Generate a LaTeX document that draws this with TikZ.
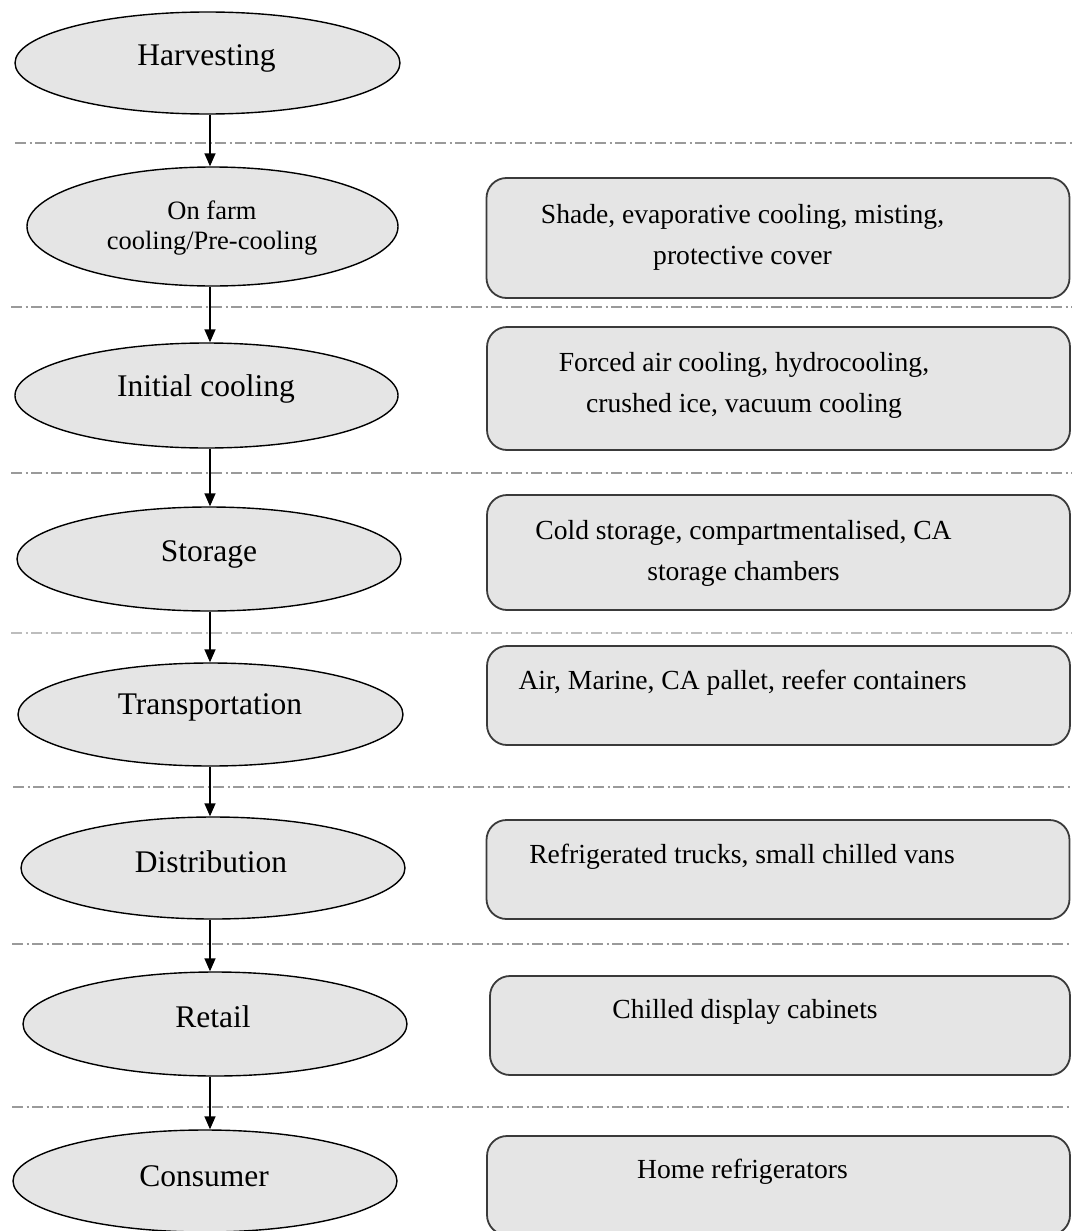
\documentclass[tikz,border=0pt]{standalone}
\usepackage{fontspec}
\setmainfont{Liberation Serif}
\usetikzlibrary{shapes.geometric,arrows.meta}
\definecolor{fillgray}{HTML}{E5E5E5}
\definecolor{sepgray}{HTML}{9A9A9A}
\definecolor{sepgraylight}{HTML}{BDBDBD}
\definecolor{boxline}{HTML}{3A3A3A}
\tikzset{
  ell/.style={ellipse, draw=black, line width=1.4pt, fill=fillgray, inner sep=0pt},
  elltext/.style={font=\fontsize{31.5}{38}\selectfont, inner sep=0pt},
  elltextsmall/.style={font=\fontsize{26.5}{30}\selectfont, inner sep=0pt, align=center},
  infobox/.style={rectangle, rounded corners=20pt, draw=boxline, line width=1.8pt, fill=fillgray, minimum width=583pt, inner sep=0pt},
  boxtext/.style={font=\fontsize{27.6}{41}\selectfont, inner sep=0pt, align=center},
  sep/.style={draw=sepgray, line width=1.3pt, dash pattern=on 11pt off 3.5pt on 2pt off 3.5pt},
  flow/.style={draw=black, line width=1.5pt, -{Triangle[length=13pt,width=11pt]}}
}
\begin{document}
\begin{tikzpicture}[x=1pt,y=-1pt]
\useasboundingbox (0,0) rectangle (1072,1231);
\begin{scope}
\clip (0,0) rectangle (1072,1231);
% separators
\coordinate (s1l) at (15,143);  \coordinate (s1r) at (1072,143);
\coordinate (s2l) at (11,307);  \coordinate (s2r) at (1072,307);
\coordinate (s3l) at (11,473);  \coordinate (s3r) at (1072,473);
\coordinate (s4l) at (11,633);  \coordinate (s4r) at (1072,633);
\coordinate (s5l) at (13,787);  \coordinate (s5r) at (1072,787);
\coordinate (s6l) at (12,944);  \coordinate (s6r) at (1072,944);
\coordinate (s7l) at (12,1107); \coordinate (s7r) at (1072,1107);
\draw[sep] (s1l) -- (s1r);
\draw[sep] (s2l) -- (s2r);
\draw[sep] (s3l) -- (s3r);
\draw[sep, draw=sepgraylight, line width=2.6pt] (s4l) -- (s4r);
\draw[sep] (s5l) -- (s5r);
\draw[sep] (s6l) -- (s6r);
\draw[sep] (s7l) -- (s7r);

% ellipses
\node[ell, minimum width=385pt, minimum height=102pt] (e1) at (207.5,63) {};
\node[ell, minimum width=371pt, minimum height=119pt] (e2) at (212.5,226.5) {};
\node[ell, minimum width=383pt, minimum height=105pt] (e3) at (206.5,395.5) {};
\node[ell, minimum width=384pt, minimum height=104pt] (e4) at (209,559) {};
\node[ell, minimum width=385pt, minimum height=103pt] (e5) at (210.5,714.5) {};
\node[ell, minimum width=384pt, minimum height=102pt] (e6) at (213,868) {};
\node[ell, minimum width=384pt, minimum height=104pt] (e7) at (215,1024) {};
\node[ell, minimum width=384pt, minimum height=102pt] (e8) at (205,1181) {};

\node[elltext] (t1) at (206.5,58) {Harvesting};
\node[elltextsmall] (t2) at (212,228) {On farm\\cooling/Pre-cooling};
\node[elltext] (t3) at (206,389) {Initial cooling};
\node[elltext] (t4) at (209,554) {Storage};
\node[elltext] (t5) at (210,707) {Transportation};
\node[elltext] (t6) at (211,862) {Distribution};
\node[elltext] (t7) at (213,1017) {Retail};
\node[elltext] (t8) at (204,1176) {Consumer};

% arrows
\coordinate (ax) at (210,0);
\draw[flow] (e1.south -| ax) -- (e2.north -| ax);
\draw[flow] (e2.south -| ax) -- (e3.north -| ax);
\draw[flow] (e3.south -| ax) -- (e4.north -| ax);
\draw[flow] (e4.south -| ax) -- (e5.north -| ax);
\draw[flow] (e5.south -| ax) -- (e6.north -| ax);
\draw[flow] (e6.south -| ax) -- (e7.north -| ax);
\draw[flow] (e7.south -| ax) -- (e8.north -| ax);

% boxes
\node[infobox, minimum height=120pt] (b1) at (778,238) {};
\node[infobox, minimum height=123pt] (b2) at (778.5,388.5) {};
\node[infobox, minimum height=115pt] (b3) at (778.5,552.5) {};
\node[infobox, minimum height=99pt] (b4) at (778.5,695.5) {};
\node[infobox, minimum height=99pt] (b5) at (778,869.5) {};
\node[infobox, minimum height=99pt, minimum width=580pt] (b6) at (780,1025.5) {};
\node[infobox, minimum height=99pt] (b7) at (778.5,1185.5) {};

\node[boxtext] (bt1) at (742.5,237.5) {Shade, evaporative cooling, misting,\\protective cover};
\node[boxtext] (bt2) at (744,385.5) {Forced air cooling, hydrocooling,\\crushed ice, vacuum cooling};
\node[boxtext] (bt3) at (743.5,553.5) {Cold storage, compartmentalised, CA\\storage chambers};
\node[boxtext] (bt4) at (742.5,683) {Air, Marine, CA pallet, reefer containers};
\node[boxtext] (bt5) at (742,857) {Refrigerated trucks, small chilled vans};
\node[boxtext] (bt6) at (745,1012) {Chilled display cabinets};
\node[boxtext] (bt7) at (742.5,1172) {Home refrigerators};
\end{scope}
\end{tikzpicture}
\end{document}
